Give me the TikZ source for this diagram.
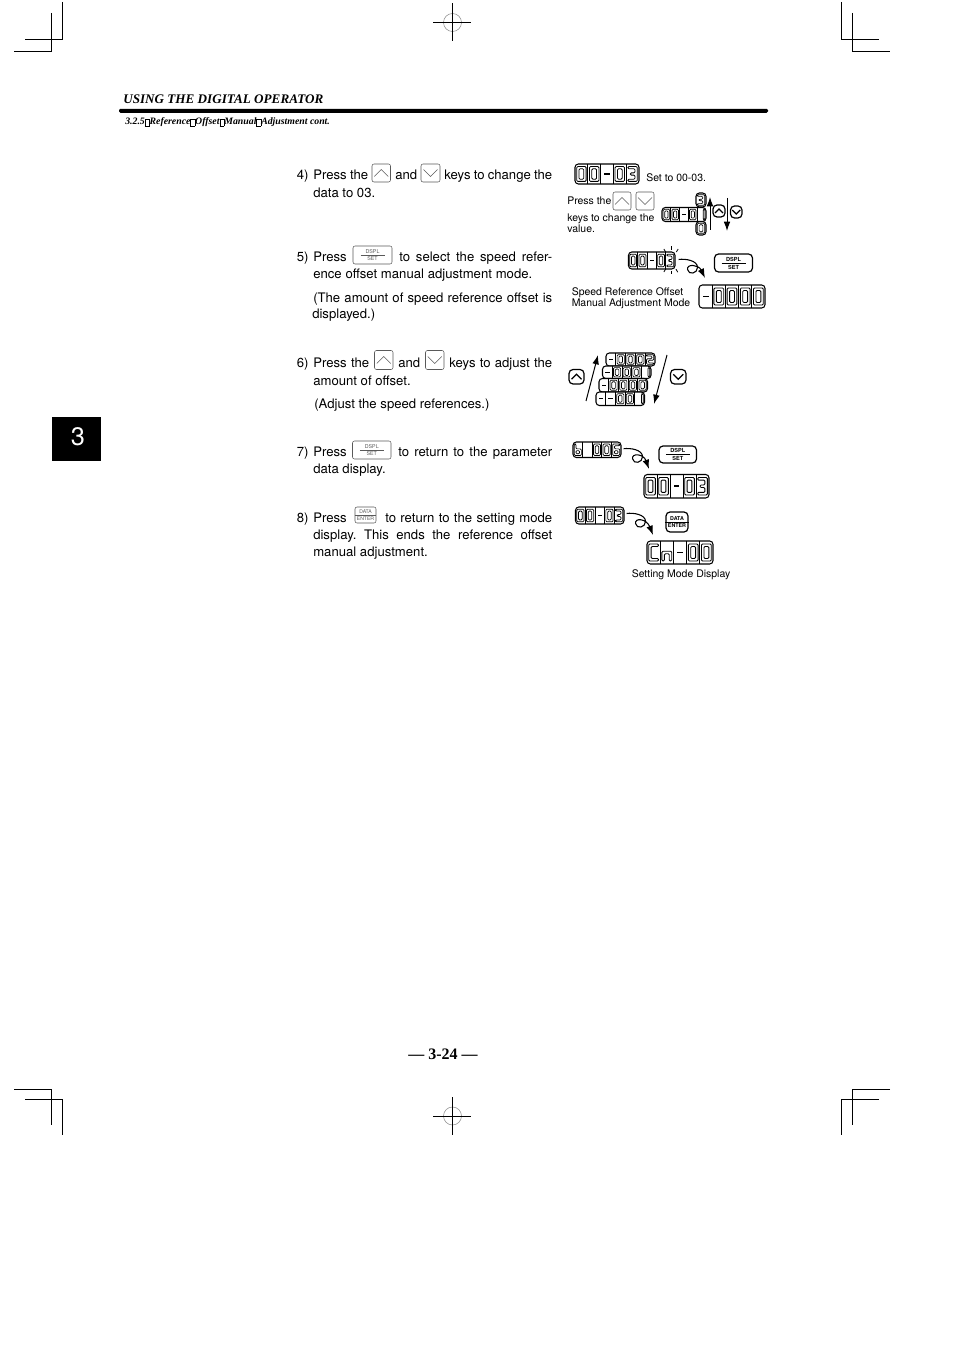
\documentclass[tikz,border=0pt]{standalone}
\usepackage{fontspec}
\setmainfont{TeX Gyre Heros}
\newfontfamily\timesfont{Liberation Serif}
\usetikzlibrary{arrows.meta, calc, fit, positioning}
\tikzset{>=latex}
\colorlet{keygray}{black!65}
\tikzset{
  crop/.style={line width=0.75pt},
  txt/.style={anchor=base west, inner sep=0, font=\fontsize{9.85}{12}\selectfont},
  smalltxt/.style={anchor=base west, inner sep=0, font=\fontsize{7.85}{9.6}\selectfont},
  ledbox/.style={rectangle, draw=black, fill=white, line width=0.8pt, rounded corners=2.5pt, inner sep=0},
  ledsep/.style={line width=0.55pt},
  keybox/.style={rectangle, draw=keygray, line width=0.4pt, rounded corners=1.5pt, inner sep=0},
  roundkey/.style={rectangle, draw=black, line width=0.9pt, rounded corners=3pt, inner sep=0},
  chev/.style={draw=keygray, line width=0.5pt},
  boldchev/.style={draw=black, line width=0.9pt},
  arrow/.style={-{Latex[length=7pt,width=5pt]}, line width=0.75pt},
  curl/.style={-{Latex[length=7pt,width=5pt]}, line width=0.8pt}
}
% digit outlines, unit box
\expandafter\def\csname glyph0\endcsname{(-1,-1) rectangle (1,1) (-0.5,-0.7) rectangle (0.5,0.7)}
\expandafter\def\csname glyph1\endcsname{(0.5,-1) rectangle (1,1)}
\expandafter\def\csname glyph2\endcsname{(-1,-1)--(1,-1)--(1,0.15)--(-0.5,0.15)--(-0.5,0.7)--(1,0.7)--(1,1)--(-1,1)--(-1,-0.15)--(0.5,-0.15)--(0.5,-0.7)--(-1,-0.7)--cycle}
\expandafter\def\csname glyph3\endcsname{(-1,-1)--(1,-1)--(1,1)--(-1,1)--(-1,0.7)--(0.5,0.7)--(0.5,0.15)--(-0.5,0.15)--(-0.5,-0.15)--(0.5,-0.15)--(0.5,-0.7)--(-1,-0.7)--cycle}
\expandafter\def\csname glyph6\endcsname{(-1,-1)--(1,-1)--(1,-0.7)--(-0.5,-0.7)--(-0.5,-0.15)--(1,-0.15)--(1,1)--(-1,1)--cycle (-0.5,0.15) rectangle (0.5,0.7)}
\expandafter\def\csname glyphb\endcsname{(-1,-1)--(-0.5,-1)--(-0.5,-0.15)--(1,-0.15)--(1,1)--(-1,1)--cycle (-0.5,0.15) rectangle (0.5,0.7)}
\expandafter\def\csname glyphC\endcsname{(-1,-1)--(1,-1)--(1,-0.7)--(-0.5,-0.7)--(-0.5,0.7)--(1,0.7)--(1,1)--(-1,1)--cycle}
\expandafter\def\csname glyphn\endcsname{(-1,-0.15)--(1,-0.15)--(1,1)--(0.5,1)--(0.5,0.15)--(-0.5,0.15)--(-0.5,1)--(-1,1)--cycle}
\expandafter\def\csname glyph-\endcsname{(-0.6,-0.11) rectangle (0.6,0.11)}
\expandafter\def\csname glyphx\endcsname{}
% name, x1, y1, x2, y2, cells, characters
\newcommand{\leddisp}[7]{
  \node[ledbox, fit={(#2,#3)(#4,#5)}] (#1) {};
  \pgfmathsetmacro\cellw{(#4-#2)/#6}
  \pgfmathsetmacro\halfw{\cellw*0.37}
  \pgfmathsetmacro\halfh{(#5-#3)*0.37}
  \pgfmathsetmacro\midy{(#3+#5)/2}
  \pgfmathsetmacro\segline{0.3+(#5-#3)*0.015}
  \foreach \ch [count=\i from 0] in {#7} {
    \pgfmathsetmacro\cx{#2+(\i+0.5)*\cellw}
    \pgfmathsetmacro\sepx{#2+\i*\cellw}
    \ifnum\i>0 \draw[ledsep] (\sepx,#3) -- (\sepx,#5); \fi
    \expandafter\let\expandafter\curglyph\csname glyph\ch\endcsname
    \begin{scope}[shift={(\cx,\midy)}, xscale=\halfw, yscale=\halfh]
      \if\ch-
        \fill \curglyph;
      \else
        \draw[line width=\segline pt, rounded corners=0.8pt] \curglyph;
      \fi
    \end{scope}
  }
}
% name, half width, half height, style
\newcommand{\chevron}[4]{
  \draw[#4] ($(#1.center)+(-#2,#3)$) -- ($(#1.center)+(0,-#3)$) -- ($(#1.center)+(#2,#3)$);
}
% start, end
\newcommand{\curlto}[2]{
  \draw[curl] (#1) .. controls ($(#1)+(7,-1)$) and ($(#1)+(19,1)$) .. ($(#1)+(19,8)$) .. controls ($(#1)+(19,14)$) and ($(#1)+(10,16)$) .. ($(#1)+(9,10)$) .. controls ($(#1)+(8,4)$) and ($(#1)+(20,5)$) .. (#2);
}
\newcommand{\fitw}[2]{\makebox[\dimexpr#1pt*3/4\relax][s]{#2}}
\newcommand{\gapbox}{{\setlength\fboxsep{0pt}\setlength\fboxrule{0.25pt}\raisebox{-0.2ex}{\fbox{\rule{0pt}{1.45ex}\hspace{0.42em}}}}}

\begin{document}
\frenchspacing
\begin{tikzpicture}[x=0.75pt, y=-0.75pt]
  \useasboundingbox (0,0) rectangle (954,1351);

  % Crop marks
  \draw[crop] (62.5,2) -- (62.5,39.5) -- (25,39.5);
  \draw[crop] (51.5,13) -- (51.5,51.5) -- (14,51.5);
  \draw[crop] (841.5,2) -- (841.5,39.5) -- (879,39.5);
  \draw[crop] (852.5,13) -- (852.5,51.5) -- (890,51.5);
  \draw[crop] (14,1089.5) -- (51.5,1089.5) -- (51.5,1125);
  \draw[crop] (25,1099.5) -- (62.5,1099.5) -- (62.5,1135);
  \draw[crop] (890,1089.5) -- (852.5,1089.5) -- (852.5,1125);
  \draw[crop] (879,1099.5) -- (841.5,1099.5) -- (841.5,1135);
  \foreach \regy in {22.5,1116} {
    \draw[black!45, line width=0.4pt] (452.5,\regy) circle (9);
    \draw[crop] (433,\regy) -- (471,\regy);
    \draw[crop] (452.5,\regy-19) -- (452.5,\regy+19);
  }

  % Header
  \node[anchor=base west, inner sep=0, font=\timesfont\bfseries\itshape\fontsize{9.85}{12}\selectfont] (head) at (123,104) {USING THE DIGITAL OPERATOR};
  \fill[rounded corners=1pt] (119,108.8) rectangle (768,112.8);
  \node[anchor=base west, inner sep=0, font=\timesfont\bfseries\itshape\fontsize{7.35}{8}\selectfont] (subhead) at (125,125) {3.2.5\gapbox Reference\gapbox Offset\gapbox Manual\gapbox Adjustment cont.};

  % Chapter tab
  \node[rectangle, fill=black, inner sep=0, minimum width=36.75pt, minimum height=33pt] (tab) at (76.5,439) {};
  \node[text=white, inner sep=0, font=\fontsize{19}{20}\selectfont] (tabnum) at (78,436.5) {3};

  % Step 4
  \node[txt] (n4) at (296.5,180) {4)};
  \node[txt] (t4a) at (313,180) {\fitw{55}{Press the}};
  \node[keybox, fit={(372,164)(390.5,182)}] (kup4) {};
  \chevron{kup4}{7}{3.5}{chev}
  \node[txt] (t4b) at (395,180) {and};
  \node[keybox, fit={(421,164)(440,182)}] (kdn4) {};
  \chevron{kdn4}{7}{-3.5}{chev}
  \node[txt] (t4c) at (444,180) {\fitw{108}{keys to change the}};
  \node[txt] (t4d) at (313,198) {data to 03.};

  % Step 5
  \node[txt] (n5) at (296.5,262) {5)};
  \node[txt] (t5a) at (313,262) {\fitw{34}{Press}};
  \node[keybox, fit={(353,246)(392,264)}] (kds5) {};
  \draw[chev] ($(kds5.center)+(-12,0)$) -- ($(kds5.center)+(12,0)$);
  \node[inner sep=0, text=keygray, font=\fontsize{4}{5}\selectfont, above=0.8pt of kds5.center] (kds5a) {DSPL};
  \node[inner sep=0, text=keygray, font=\fontsize{4}{5}\selectfont, below=0.8pt of kds5.center] (kds5b) {SET};
  \node[txt] (t5b) at (399,262) {\fitw{153}{to select the speed refer-}};
  \node[txt] (t5c) at (313,279) {\fitw{219}{ence offset manual adjustment mode.}};
  \node[txt] (t5d) at (313,303) {\fitw{239}{(The amount of speed reference offset is}};
  \node[txt] (t5e) at (312,319) {displayed.)};

  % Step 6
  \node[txt] (n6) at (296.5,368) {6)};
  \node[txt] (t6a) at (313,368) {\fitw{56}{Press the}};
  \node[keybox, fit={(374.5,350.5)(393,369.5)}] (kup6) {};
  \chevron{kup6}{7}{3.5}{chev}
  \node[txt] (t6b) at (398,368) {and};
  \node[keybox, fit={(425.5,350.5)(444,369.5)}] (kdn6) {};
  \chevron{kdn6}{7}{-3.5}{chev}
  \node[txt] (t6c) at (449,368) {\fitw{103}{keys to adjust the}};
  \node[txt] (t6d) at (313,385) {amount of offset.};
  \node[txt] (t6e) at (314,408) {(Adjust the speed references.)};

  % Step 7
  \node[txt] (n7) at (296.5,456) {7)};
  \node[txt] (t7a) at (313,456) {\fitw{34}{Press}};
  \node[keybox, fit={(352.5,441)(391,459)}] (kds7) {};
  \draw[chev] ($(kds7.center)+(-12,0)$) -- ($(kds7.center)+(12,0)$);
  \node[inner sep=0, text=keygray, font=\fontsize{4}{5}\selectfont, above=0.8pt of kds7.center] (kds7a) {DSPL};
  \node[inner sep=0, text=keygray, font=\fontsize{4}{5}\selectfont, below=0.8pt of kds7.center] (kds7b) {SET};
  \node[txt] (t7b) at (398,456) {\fitw{154}{to return to the parameter}};
  \node[txt] (t7c) at (313,473) {data display.};

  % Step 8
  \node[txt] (n8) at (296.5,522) {8)};
  \node[txt] (t8a) at (313,522) {\fitw{34}{Press}};
  \node[keybox, fit={(355,507)(376,523)}] (kde8) {};
  \draw[chev] (kde8.west) -- (kde8.east);
  \node[inner sep=0, text=keygray, font=\fontsize{3.8}{5}\selectfont, above=0.8pt of kde8.center] (kde8a) {DATA};
  \node[inner sep=0, text=keygray, font=\fontsize{3.8}{5}\selectfont, below=0.8pt of kde8.center] (kde8b) {ENTER};
  \node[txt] (t8b) at (385,522) {\fitw{167}{to return to the setting mode}};
  \node[txt] (t8c) at (313,539) {\fitw{239}{display. This ends the reference offset}};
  \node[txt] (t8d) at (313,556) {manual adjustment.};

  % Right column, step 4
  \leddisp{d4a}{575}{164}{639}{184}{5}{0,0,-,0,3}
  \node[smalltxt] (s4a) at (646,182) {Set to 00-03.};
  \node[smalltxt] (s4b) at (567,205) {Press the};
  \node[keybox, fit={(613,192)(631,210)}] (kup4b) {};
  \chevron{kup4b}{7}{3.5}{chev}
  \node[keybox, fit={(636,192)(654,210)}] (kdn4b) {};
  \chevron{kdn4b}{7}{-3.5}{chev}
  \node[smalltxt] (s4c) at (567,222) {keys to change the};
  \node[smalltxt] (s4d) at (567,233) {value.};
  \leddisp{d4b}{696}{193}{706}{207}{1}{3}
  \leddisp{d4c}{696}{221.5}{706}{235}{1}{0}
  \leddisp{d4d}{662}{207.5}{706}{221.5}{5}{0,0,-,0,1}
  \node[roundkey, fit={(713,205)(725,217)}] (kup4c) {};
  \chevron{kup4c}{4}{2}{boldchev}
  \node[roundkey, fit={(730.5,206)(742,218)}] (kdn4c) {};
  \chevron{kdn4c}{4}{-2}{boldchev}
  \coordinate (au4a) at (710,230);
  \coordinate (au4b) at (710,197);
  \coordinate (ad4a) at (727,198);
  \coordinate (ad4b) at (727,231);
  \draw[arrow] (au4a) -- (au4b);
  \draw[arrow] (ad4a) -- (ad4b);

  % Right column, step 5
  \leddisp{d5a}{628.5}{252}{675}{269}{5}{0,0,-,0,3}
  \foreach \a/\r in {60/10,90/10.5,122/10,238/10,270/10.5,302/10} {
    \draw[line width=0.6pt] ($(671,260.5)+(\a:\r)$) -- ($(671,260.5)+(\a:\r+3.5)$);
  }
  \node[roundkey, fit={(714.5,254)(752.5,272)}] (kds5b) {};
  \draw[line width=0.7pt] ($(kds5b.center)+(-12,0)$) -- ($(kds5b.center)+(12,0)$);
  \node[inner sep=0, font=\bfseries\fontsize{4.2}{5}\selectfont, above=1pt of kds5b.center] (kds5ba) {DSPL};
  \node[inner sep=0, font=\bfseries\fontsize{4.2}{5}\selectfont, below=1.5pt of kds5b.center] (kds5bb) {SET};
  \coordinate (s5) at ($(d5a.east)+(3,-1)$);
  \coordinate (e5) at (705,278);
  \curlto{s5}{e5}
  \node[smalltxt] (s5a) at (571.5,296) {Speed Reference Offset};
  \node[smalltxt] (s5b) at (571.5,307) {Manual Adjustment Mode};
  \leddisp{d5b}{699}{285}{765}{308}{5}{-,0,0,0,0}

  % Right column, step 6
  \leddisp{d6a}{606}{353}{655}{366}{5}{-,0,0,0,2}
  \leddisp{d6b}{602.5}{366}{651}{378.5}{5}{-,0,0,0,1}
  \leddisp{d6c}{599}{378.5}{647.5}{392}{5}{-,0,0,0,0}
  \leddisp{d6d}{596}{392}{644.5}{405.5}{5}{-,-,0,0,1}
  \node[roundkey, fit={(569,369.5)(584,384)}] (kup6b) {};
  \chevron{kup6b}{5}{2.5}{boldchev}
  \node[roundkey, fit={(670.5,369.5)(686,384)}] (kdn6b) {};
  \chevron{kdn6b}{5}{-2.5}{boldchev}
  \coordinate (au6a) at (586,401);
  \coordinate (au6b) at (598,355);
  \coordinate (ad6a) at (667,355);
  \coordinate (ad6b) at (654,404);
  \draw[arrow] (au6a) -- (au6b);
  \draw[arrow] (ad6a) -- (ad6b);

  % Right column, step 7
  \leddisp{d7a}{573}{442}{621}{457.5}{5}{b,x,0,0,6}
  \node[roundkey, fit={(659,446)(696.5,463)}] (kds7b) {};
  \draw[line width=0.7pt] ($(kds7b.center)+(-12,0)$) -- ($(kds7b.center)+(12,0)$);
  \node[inner sep=0, font=\bfseries\fontsize{4.2}{5}\selectfont, above=1pt of kds7b.center] (kds7ba) {DSPL};
  \node[inner sep=0, font=\bfseries\fontsize{4.2}{5}\selectfont, below=1.5pt of kds7b.center] (kds7bb) {SET};
  \coordinate (s7) at ($(d7a.east)+(2,-1)$);
  \coordinate (e7) at (649,469);
  \curlto{s7}{e7}
  \leddisp{d7b}{644}{474.5}{709}{498}{5}{0,0,-,0,3}

  % Right column, step 8
  \leddisp{d8a}{575.5}{507}{624}{524}{5}{0,0,-,0,3}
  \node[roundkey, fit={(666,512)(688,532)}] (kde8b) {};
  \draw[line width=0.7pt] (kde8b.west) -- (kde8b.east);
  \node[inner sep=0, font=\bfseries\fontsize{4}{5}\selectfont, above=1pt of kde8b.center] (kde8ba) {DATA};
  \node[inner sep=0, font=\bfseries\fontsize{4}{5}\selectfont, below=1pt of kde8b.center] (kde8bb) {ENTER};
  \coordinate (s8) at ($(d8a.east)+(2,-2)$);
  \coordinate (e8) at (653,535);
  \curlto{s8}{e8}
  \leddisp{d8b}{647}{541}{713}{564}{5}{C,n,-,0,0}
  \node[smalltxt] (s8a) at (631.5,577) {Setting Mode Display};

  % Page number
  \node[inner sep=0, font=\timesfont\bfseries\fontsize{12}{14}\selectfont] (page) at (443,1054) {— 3-24 —};
\end{tikzpicture}
\end{document}
